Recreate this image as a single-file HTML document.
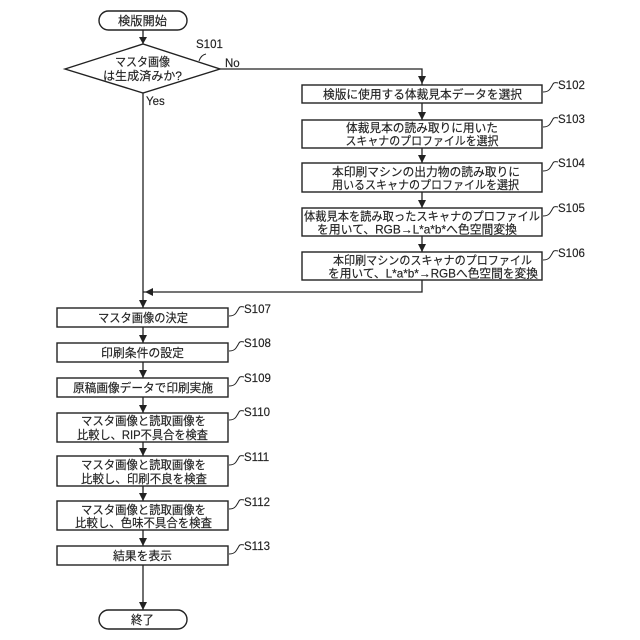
<!DOCTYPE html>
<html lang="ja"><head><meta charset="utf-8">
<style>
html,body{margin:0;padding:0;background:#fff}
svg{display:block}
text{font-family:"Liberation Sans","Noto Sans CJK JP",sans-serif;font-size:11.7px;fill:#222;stroke:#222;stroke-width:.15}
.c{text-anchor:middle}
.s{font-size:11.5px}
rect,polygon.d{fill:#fff;stroke:#222;stroke-width:1.4}
path.l{fill:none;stroke:#222;stroke-width:1.3}
path.q{fill:none;stroke:#222;stroke-width:1}
polygon.a{fill:#222}
</style></head><body>
<svg width="640" height="640" viewBox="0 0 640 640" xmlns="http://www.w3.org/2000/svg">
<!-- connectors -->
<path class="l" d="M143 30V44M143 93V308M220 69H422V85M422 103V120M422 148V163M422 192V208M422 236V252M422 280V292H143M143 327V343M143 362V378M143 397V413M143 442V456M143 486V501M143 530V546M143 565V610"/>
<g>
<polygon class="a" points="139,37 147,37 143,44"/>
<polygon class="a" points="418,76 426,76 422,84"/>
<polygon class="a" points="418,112 426,112 422,120"/>
<polygon class="a" points="418,155 426,155 422,163"/>
<polygon class="a" points="418,200 426,200 422,208"/>
<polygon class="a" points="418,244 426,244 422,252"/>
<polygon class="a" points="145,292 153,288 153,296"/>
<polygon class="a" points="139,300 147,300 143,308"/>
<polygon class="a" points="139,335 147,335 143,343"/>
<polygon class="a" points="139,370 147,370 143,378"/>
<polygon class="a" points="139,405 147,405 143,413"/>
<polygon class="a" points="139,448 147,448 143,456"/>
<polygon class="a" points="139,493 147,493 143,501"/>
<polygon class="a" points="139,538 147,538 143,546"/>
<polygon class="a" points="139,602 147,602 143,610"/>
</g>
<!-- terminators and decision -->
<rect x="99" y="11" width="88" height="19" rx="9.5"/>
<text class="c" x="142.500" y="25" textLength="49" lengthAdjust="spacingAndGlyphs">検版開始</text>
<polygon class="d" points="65,69 143,44 220,69 143,93"/>
<text class="c" x="142.500" y="66" textLength="55" lengthAdjust="spacingAndGlyphs">マスタ画像</text>
<text class="c" x="142.500" y="80" textLength="79" lengthAdjust="spacingAndGlyphs">は生成済みか?</text>
<text class="s" x="196" y="48">S101</text>
<text class="s" x="225" y="67">No</text>
<text class="s" x="146" y="105">Yes</text>
<path class="q" d="M199 61q2-6 7-7"/>
<!-- right column -->
<rect x="302" y="85" width="240" height="18"/>
<text class="c" x="422.500" y="98.500" textLength="199" lengthAdjust="spacingAndGlyphs">検版に使用する体裁見本データを選択</text>
<rect x="302" y="120" width="240" height="28"/>
<text class="c" x="422" y="132" textLength="152" lengthAdjust="spacingAndGlyphs">体裁見本の読み取りに用いた</text>
<text class="c" x="422" y="145" textLength="153" lengthAdjust="spacingAndGlyphs">スキャナのプロファイルを選択</text>
<rect x="302" y="163" width="240" height="29"/>
<text class="c" x="426" y="176" textLength="188" lengthAdjust="spacingAndGlyphs">本印刷マシンの出力物の読み取りに</text>
<text class="c" x="425.500" y="189" textLength="187" lengthAdjust="spacingAndGlyphs">用いるスキャナのプロファイルを選択</text>
<rect x="302" y="208" width="240" height="28"/>
<text class="c" x="422" y="220.500" textLength="236" lengthAdjust="spacingAndGlyphs">体裁見本を読み取ったスキャナのプロファイル</text>
<text class="c" x="417" y="233.500" textLength="200" lengthAdjust="spacingAndGlyphs">を用いて、RGB→L*a*b*へ色空間変換</text>
<rect x="302" y="252" width="240" height="28"/>
<text class="c" x="432.500" y="264.500" textLength="199" lengthAdjust="spacingAndGlyphs">本印刷マシンのスキャナのプロファイル</text>
<text class="c" x="433" y="277.500" textLength="210" lengthAdjust="spacingAndGlyphs">を用いて、L*a*b*→RGBへ色空間を変換</text>
<!-- left column -->
<rect x="57" y="308" width="171" height="19"/>
<text class="c" x="143" y="322" textLength="90" lengthAdjust="spacingAndGlyphs">マスタ画像の決定</text>
<rect x="57" y="343" width="171" height="19"/>
<text class="c" x="142.500" y="357" textLength="83" lengthAdjust="spacingAndGlyphs">印刷条件の設定</text>
<rect x="57" y="378" width="171" height="19"/>
<text class="c" x="143" y="392" textLength="140" lengthAdjust="spacingAndGlyphs">原稿画像データで印刷実施</text>
<rect x="57" y="413" width="171" height="29"/>
<text class="c" x="143.500" y="425" textLength="125" lengthAdjust="spacingAndGlyphs">マスタ画像と読取画像を</text>
<text class="c" x="142.500" y="439" textLength="131" lengthAdjust="spacingAndGlyphs">比較し、RIP不具合を検査</text>
<rect x="57" y="456" width="171" height="30"/>
<text class="c" x="143.500" y="469" textLength="125" lengthAdjust="spacingAndGlyphs">マスタ画像と読取画像を</text>
<text class="c" x="144" y="483" textLength="126" lengthAdjust="spacingAndGlyphs">比較し、印刷不良を検査</text>
<rect x="57" y="501" width="171" height="29"/>
<text class="c" x="143.500" y="514" textLength="125" lengthAdjust="spacingAndGlyphs">マスタ画像と読取画像を</text>
<text class="c" x="143.500" y="527" textLength="137" lengthAdjust="spacingAndGlyphs">比較し、色味不具合を検査</text>
<rect x="57" y="546" width="171" height="19"/>
<text class="c" x="142.500" y="560" textLength="59" lengthAdjust="spacingAndGlyphs">結果を表示</text>
<rect x="99" y="610" width="88" height="19" rx="9.5"/>
<text class="c" x="142.500" y="624" textLength="23" lengthAdjust="spacingAndGlyphs">終了</text>
<!-- step labels and leaders -->
<path class="q" d="M543 92q5 0 7-3t3-5t5-1"/>
<text class="s" x="558" y="89">S102</text>
<path class="q" d="M543 127q5 0 7-3t3-5t5-1"/>
<text class="s" x="558" y="123">S103</text>
<path class="q" d="M543 171q5 0 7-3t3-5t5-1"/>
<text class="s" x="558" y="167">S104</text>
<path class="q" d="M543 216q5 0 7-3t3-5t5-1"/>
<text class="s" x="558" y="212">S105</text>
<path class="q" d="M543 260q5 0 7-3t3-5t5-1"/>
<text class="s" x="558" y="257">S106</text>
<path class="q" d="M229 316q5 0 7-3t3-5t5-1"/>
<text class="s" x="244" y="313">S107</text>
<path class="q" d="M229 351q5 0 7-3t3-5t5-1"/>
<text class="s" x="244" y="347">S108</text>
<path class="q" d="M229 386q5 0 7-3t3-5t5-1"/>
<text class="s" x="244" y="382">S109</text>
<path class="q" d="M229 420q5 0 7-3t3-5t5-1"/>
<text class="s" x="244" y="416">S110</text>
<path class="q" d="M229 465q5 0 7-3t3-5t5-1"/>
<text class="s" x="244" y="461">S111</text>
<path class="q" d="M229 509q5 0 7-3t3-5t5-1"/>
<text class="s" x="244" y="506">S112</text>
<path class="q" d="M229 554q5 0 7-3t3-5t5-1"/>
<text class="s" x="244" y="550">S113</text>
</svg>
</body></html>
